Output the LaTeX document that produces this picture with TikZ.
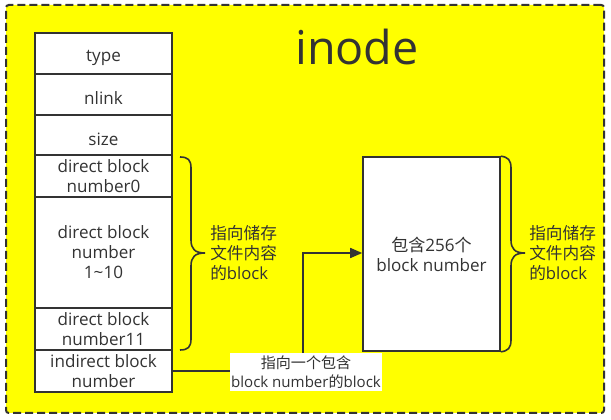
\documentclass[tikz,border=0pt]{standalone}
\usepackage{fontspec}
\setmainfont{Open Sans}
\newfontfamily\cjk{Noto Sans CJK SC}
\usetikzlibrary{arrows.meta}
\definecolor{ink}{HTML}{333333}
\definecolor{bgyellow}{HTML}{FFFF00}
\tikzset{
  frame/.style={draw=ink, line width=1.5pt, dash pattern=on 6pt off 3pt, fill=bgyellow, rounded corners=2pt},
  rowbox/.style={draw=ink, line width=1.2pt, fill=white, inner sep=0pt, minimum width=102.75pt, align=center, text=ink, font=\fontsize{12.8}{15}\selectfont},
  rowtext/.style={text=ink, font=\fontsize{12.8}{15}\selectfont, inner sep=0pt, yshift=-3pt},
  bracetext/.style={align=left, text=ink, font=\fontsize{12.5}{15}\selectfont, inner sep=0pt, anchor=west},
  bracepath/.style={draw=ink, line width=1.2pt},
  conn/.style={draw=ink, line width=1.2pt, -{Triangle[length=9pt,width=7.5pt]}},
  lbl/.style={fill=white, align=center, text=ink, inner sep=1pt, minimum width=114pt, minimum height=29pt, font=\fontsize{11.3}{14.5}\selectfont}
}
\begin{document}
\begin{tikzpicture}[x=0.75pt, y=-0.75pt]
\useasboundingbox (0,0) rectangle (611,420);
\fill[white] (0,0) rectangle (611,420);
\node[frame, minimum width=448.5pt, minimum height=306pt, inner sep=0pt] (outer) at (305,209) {};
\node[text=ink, font=\fontsize{35}{38}\selectfont, inner sep=0pt] (title) at (357,47) {inode};

\node[rowbox, minimum height=30.75pt, label={[rowtext]center:type}] (type) at (103.5,53.5) {};
\node[rowbox, minimum height=30.75pt, label={[rowtext]center:nlink}] (nlink) at (103.5,94.5) {};
\node[rowbox, minimum height=30pt, label={[rowtext]center:size}] (size) at (103.5,135) {};
\node[rowbox, minimum height=31.5pt] (d0) at (103.5,176) {direct block\\number0};
\node[rowbox, minimum height=83.25pt] (d1) at (103.5,252.5) {direct block\\number\\1\textasciitilde10};
\node[rowbox, minimum height=31.5pt] (d11) at (103.5,329) {direct block\\number11};
\node[rowbox, minimum height=31.5pt] (ind) at (103.5,371) {indirect block\\number};

\node[rowbox, minimum width=102.75pt, minimum height=145.5pt] (blk) at (431.5,254) {{\cjk 包含}256{\cjk 个}\\block number};

% left brace
\draw[bracepath] (180,157) .. controls (188,157) and (191,160) .. (191,168)
  -- (191,240) .. controls (191,249) and (195,253) .. (205,253)
  .. controls (195,253) and (191,257) .. (191,266)
  -- (191,339) .. controls (191,347) and (188,350) .. (180,350);
\node[bracetext] (ltext) at (210,253) {{\cjk 指向储存}\\{\cjk 文件内容}\\{\cjk 的}block};

% right brace
\draw[bracepath] (blk.north east) .. controls (508,157) and (511,160) .. (511,168)
  -- (511,240) .. controls (511,249) and (515,253) .. (525,253)
  .. controls (515,253) and (511,257) .. (511,266)
  -- (511,340) .. controls (511,348) and (508,351) .. (blk.south east);
\node[bracetext] (rtext) at (529,253) {{\cjk 指向储存}\\{\cjk 文件内容}\\{\cjk 的}block};

\coordinate (bend1) at (303,371);
\coordinate (bend2) at (303,253);
\draw[conn] (ind.east) -- (bend1) -- (bend2) -- (blk.west |- bend2);
\node[lbl] (lab) at (306,372) {{\cjk 指向一个包含}\\block number{\cjk 的}block};
\end{tikzpicture}
\end{document}
